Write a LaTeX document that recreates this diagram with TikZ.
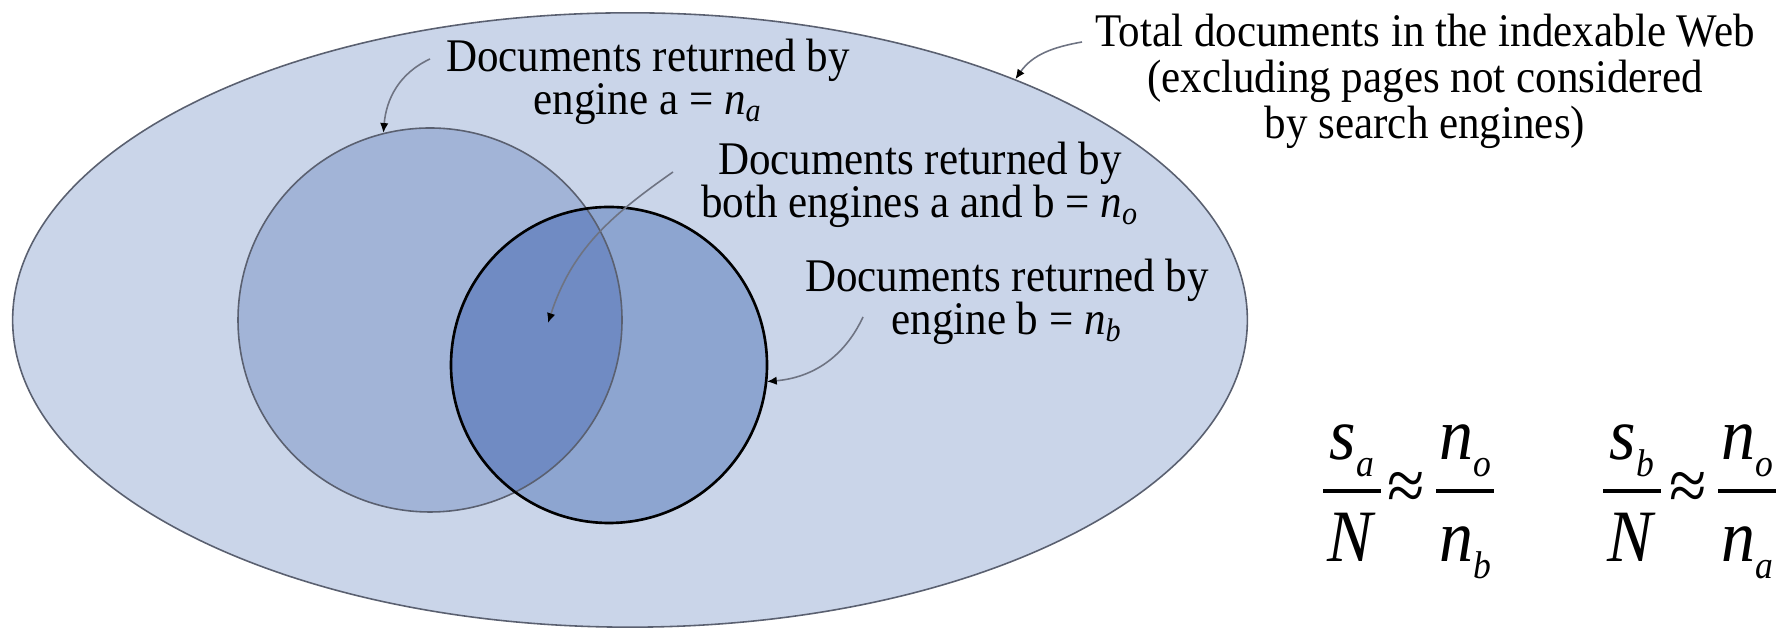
\documentclass[tikz,border=0pt]{standalone}
\usepackage{amsmath}
\usepackage{graphicx}
\usepackage{fontspec}
\setmainfont{Liberation Serif}[FakeStretch=0.92]
\usetikzlibrary{shapes.geometric,arrows.meta}
\definecolor{webfill}{HTML}{CAD5E9}
\definecolor{afill}{HTML}{A2B4D7}
\definecolor{bfill}{HTML}{8DA5D0}
\definecolor{abfill}{HTML}{708BC3}
\definecolor{edge}{HTML}{5A6070}
\definecolor{lead}{HTML}{6E7382}
\newcommand{\subidx}[2]{\textit{#1}\raisebox{-4.8pt}{\fontsize{11}{12}\selectfont\textit{#2}}}

\begin{document}
\begin{tikzpicture}[x=0.01cm, y=0.01cm, font=\fontsize{13.3}{12.2}\selectfont,
		lbl/.style={align=center, inner sep=0pt, anchor=north},
		frm/.style={inner sep=0pt, font=\fontsize{21}{24}\selectfont},
		arr/.style={draw=lead, line width=0.45pt, -{Latex[black,length=2.8pt,width=2.4pt]}}]
		\useasboundingbox (0,0) rectangle (1782,628);
		\node[ellipse, draw=edge, line width=0.45pt, fill=webfill, minimum width=12.34cm, minimum height=6.14cm, inner sep=0pt] (web) at (630,308) {};
		\node[circle, fill=afill, minimum size=3.84cm, inner sep=0pt] (A) at (430,308) {};
		\node[circle, fill=bfill, minimum size=3.16cm, inner sep=0pt] (B) at (609,263) {};
		\begin{scope}
			\clip (A.center) circle[radius=192];
			\fill[abfill] (B.center) circle[radius=158];
		\end{scope}
		\draw[edge, line width=0.45pt] (A.center) circle[radius=192];
		\draw[black, line width=0.75pt] (B.center) circle[radius=158];
		\node[lbl] (la) at (648,590) {Documents returned by\\engine a = $\textit{n}_{\textit{a}}$};
		\node[lbl] (lo) at (920,487) {Documents returned by\\both engines a and b = $\textit{n}_{\textit{o}}$};
		\node[lbl] (lb) at (1007,370) {Documents returned by\\engine b = $\textit{n}_{\textit{b}}$};
		\node[lbl, font=\fontsize{13.3}{13.2}\selectfont] (lw) at (1425,615) {Total documents in the indexable Web\\(excluding pages not considered\\by search engines)};
		\coordinate (a0) at (430,569);
		\coordinate (o0) at (673,456);
		\coordinate (o1) at (548,305);
		\coordinate (b0) at (863,311);
		\coordinate (w0) at (1082,586);
		\foreach \s/\e/\o/\i in {a0/A.104/205/85, o0/o1/215/72, b0/B.-6/245/5, w0/web.32/190/55}
			\draw[arr] (\s) to[out=\o, in=\i] (\e);
		% the two estimates
		\foreach \i/\cx/\nm/\dn in {1/1352/{\subidx{s}{a}}/{\textit{N}}, 2/1465/{\subidx{n}{o}}/{\subidx{n}{b}}, 3/1632/{\subidx{s}{b}}/{\textit{N}}, 4/1747/{\subidx{n}{o}}/{\subidx{n}{a}}} {
			\node[frm, anchor=base] (num\i) at (\cx,168) {\nm};
			\node[frm, anchor=base] (den\i) at (\cx,66) {\dn};
			\draw[line width=1.1pt] (\cx-29,137) -- (\cx+29,137);
		}
		\foreach \i/\x in {1/1406, 2/1688} \node[frm] (ap\i) at (\x,137) {≈};
	\end{tikzpicture}
\end{document}
